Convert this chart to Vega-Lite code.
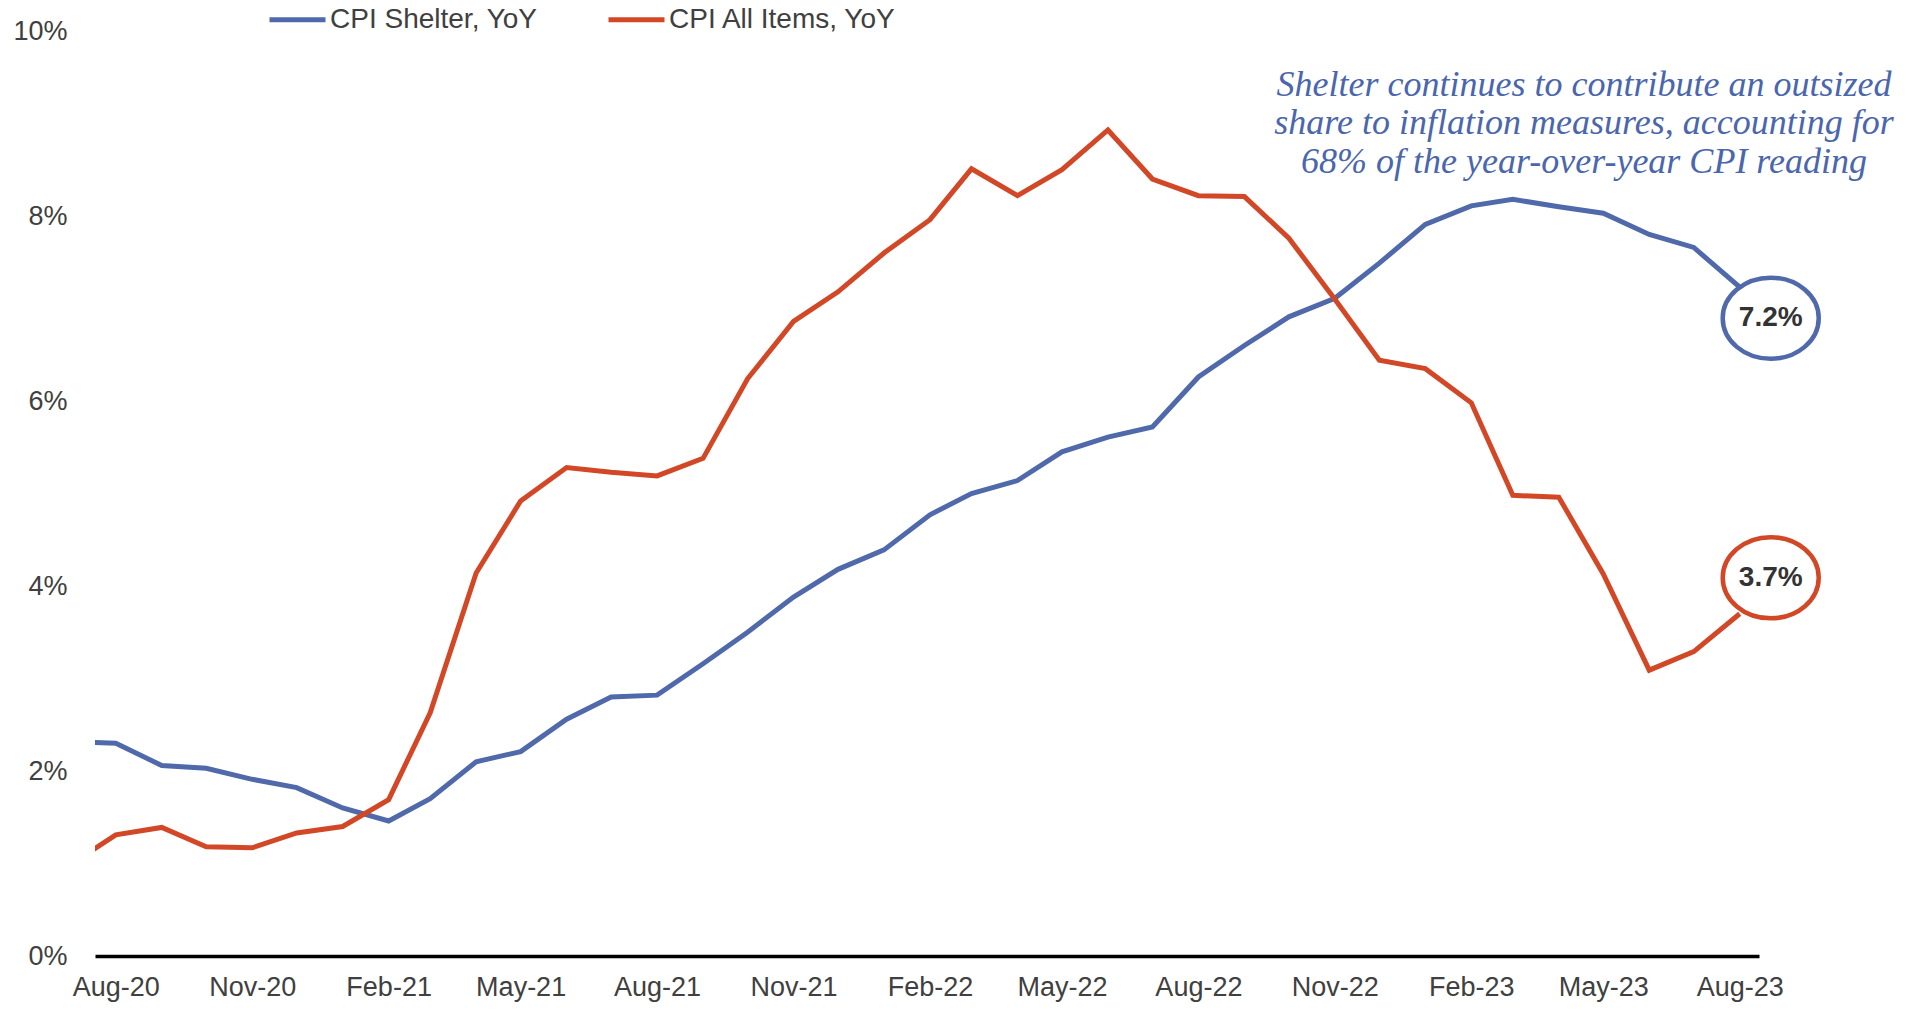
{
  "$schema": "https://vega.github.io/schema/vega-lite/v6.json",
  "autosize": {"type": "none"},
  "padding": {"left": 95, "top": 31, "right": 149, "bottom": 55},
  "width": 1664,
  "height": 925,
  "background": "white",
  "config": {"view": {"stroke": null}, "font": "Liberation Sans"},
  "datasets": {
    "cpi": [
      {"month": "2020-07-01", "series": "CPI Shelter, YoY", "value": 2.32},
      {"month": "2020-08-01", "series": "CPI Shelter, YoY", "value": 2.30},
      {"month": "2020-09-01", "series": "CPI Shelter, YoY", "value": 2.06},
      {"month": "2020-10-01", "series": "CPI Shelter, YoY", "value": 2.03},
      {"month": "2020-11-01", "series": "CPI Shelter, YoY", "value": 1.91},
      {"month": "2020-12-01", "series": "CPI Shelter, YoY", "value": 1.82},
      {"month": "2021-01-01", "series": "CPI Shelter, YoY", "value": 1.60},
      {"month": "2021-02-01", "series": "CPI Shelter, YoY", "value": 1.46},
      {"month": "2021-03-01", "series": "CPI Shelter, YoY", "value": 1.70},
      {"month": "2021-04-01", "series": "CPI Shelter, YoY", "value": 2.10},
      {"month": "2021-05-01", "series": "CPI Shelter, YoY", "value": 2.21},
      {"month": "2021-06-01", "series": "CPI Shelter, YoY", "value": 2.56},
      {"month": "2021-07-01", "series": "CPI Shelter, YoY", "value": 2.80},
      {"month": "2021-08-01", "series": "CPI Shelter, YoY", "value": 2.82},
      {"month": "2021-09-01", "series": "CPI Shelter, YoY", "value": 3.16},
      {"month": "2021-10-01", "series": "CPI Shelter, YoY", "value": 3.50},
      {"month": "2021-11-01", "series": "CPI Shelter, YoY", "value": 3.88},
      {"month": "2021-12-01", "series": "CPI Shelter, YoY", "value": 4.18},
      {"month": "2022-01-01", "series": "CPI Shelter, YoY", "value": 4.39},
      {"month": "2022-02-01", "series": "CPI Shelter, YoY", "value": 4.77},
      {"month": "2022-03-01", "series": "CPI Shelter, YoY", "value": 5.00},
      {"month": "2022-04-01", "series": "CPI Shelter, YoY", "value": 5.14},
      {"month": "2022-05-01", "series": "CPI Shelter, YoY", "value": 5.45},
      {"month": "2022-06-01", "series": "CPI Shelter, YoY", "value": 5.61},
      {"month": "2022-07-01", "series": "CPI Shelter, YoY", "value": 5.72},
      {"month": "2022-08-01", "series": "CPI Shelter, YoY", "value": 6.26},
      {"month": "2022-09-01", "series": "CPI Shelter, YoY", "value": 6.60},
      {"month": "2022-10-01", "series": "CPI Shelter, YoY", "value": 6.91},
      {"month": "2022-11-01", "series": "CPI Shelter, YoY", "value": 7.11},
      {"month": "2022-12-01", "series": "CPI Shelter, YoY", "value": 7.49},
      {"month": "2023-01-01", "series": "CPI Shelter, YoY", "value": 7.91},
      {"month": "2023-02-01", "series": "CPI Shelter, YoY", "value": 8.11},
      {"month": "2023-03-01", "series": "CPI Shelter, YoY", "value": 8.18},
      {"month": "2023-04-01", "series": "CPI Shelter, YoY", "value": 8.10},
      {"month": "2023-05-01", "series": "CPI Shelter, YoY", "value": 8.03},
      {"month": "2023-06-01", "series": "CPI Shelter, YoY", "value": 7.80},
      {"month": "2023-07-01", "series": "CPI Shelter, YoY", "value": 7.66},
      {"month": "2023-08-01", "series": "CPI Shelter, YoY", "value": 7.23},
      {"month": "2020-07-01", "series": "CPI All Items, YoY", "value": 0.98},
      {"month": "2020-08-01", "series": "CPI All Items, YoY", "value": 1.31},
      {"month": "2020-09-01", "series": "CPI All Items, YoY", "value": 1.39},
      {"month": "2020-10-01", "series": "CPI All Items, YoY", "value": 1.18},
      {"month": "2020-11-01", "series": "CPI All Items, YoY", "value": 1.17},
      {"month": "2020-12-01", "series": "CPI All Items, YoY", "value": 1.33},
      {"month": "2021-01-01", "series": "CPI All Items, YoY", "value": 1.40},
      {"month": "2021-02-01", "series": "CPI All Items, YoY", "value": 1.69},
      {"month": "2021-03-01", "series": "CPI All Items, YoY", "value": 2.63},
      {"month": "2021-04-01", "series": "CPI All Items, YoY", "value": 4.14},
      {"month": "2021-05-01", "series": "CPI All Items, YoY", "value": 4.92},
      {"month": "2021-06-01", "series": "CPI All Items, YoY", "value": 5.28},
      {"month": "2021-07-01", "series": "CPI All Items, YoY", "value": 5.23},
      {"month": "2021-08-01", "series": "CPI All Items, YoY", "value": 5.19},
      {"month": "2021-09-01", "series": "CPI All Items, YoY", "value": 5.38},
      {"month": "2021-10-01", "series": "CPI All Items, YoY", "value": 6.24},
      {"month": "2021-11-01", "series": "CPI All Items, YoY", "value": 6.86},
      {"month": "2021-12-01", "series": "CPI All Items, YoY", "value": 7.18},
      {"month": "2022-01-01", "series": "CPI All Items, YoY", "value": 7.60},
      {"month": "2022-02-01", "series": "CPI All Items, YoY", "value": 7.96},
      {"month": "2022-03-01", "series": "CPI All Items, YoY", "value": 8.51},
      {"month": "2022-04-01", "series": "CPI All Items, YoY", "value": 8.22},
      {"month": "2022-05-01", "series": "CPI All Items, YoY", "value": 8.50},
      {"month": "2022-06-01", "series": "CPI All Items, YoY", "value": 8.93},
      {"month": "2022-07-01", "series": "CPI All Items, YoY", "value": 8.40},
      {"month": "2022-08-01", "series": "CPI All Items, YoY", "value": 8.22},
      {"month": "2022-09-01", "series": "CPI All Items, YoY", "value": 8.21},
      {"month": "2022-10-01", "series": "CPI All Items, YoY", "value": 7.76},
      {"month": "2022-11-01", "series": "CPI All Items, YoY", "value": 7.10},
      {"month": "2022-12-01", "series": "CPI All Items, YoY", "value": 6.44},
      {"month": "2023-01-01", "series": "CPI All Items, YoY", "value": 6.35},
      {"month": "2023-02-01", "series": "CPI All Items, YoY", "value": 5.98},
      {"month": "2023-03-01", "series": "CPI All Items, YoY", "value": 4.98},
      {"month": "2023-04-01", "series": "CPI All Items, YoY", "value": 4.96},
      {"month": "2023-05-01", "series": "CPI All Items, YoY", "value": 4.13},
      {"month": "2023-06-01", "series": "CPI All Items, YoY", "value": 3.09},
      {"month": "2023-07-01", "series": "CPI All Items, YoY", "value": 3.29},
      {"month": "2023-08-01", "series": "CPI All Items, YoY", "value": 3.70}
    ],
    "ends": [
      {"month": "2023-08-01", "series": "CPI Shelter, YoY", "value": 7.23, "label": "7.2%"},
      {"month": "2023-08-01", "series": "CPI All Items, YoY", "value": 3.70, "label": "3.7%"}
    ],
    "note": [
      {"text": ["Shelter continues to contribute an outsized", "share to inflation measures, accounting for", "68% of the year-over-year CPI reading"]}
    ]
  },
  "layer": [
    {
      "data": {"name": "cpi"},
      "mark": {"type": "line", "strokeWidth": 5, "clip": true},
      "encoding": {
        "x": {
          "field": "month", "type": "temporal",
          "scale": {"type": "utc", "domain": [{"year": 2020, "month": 7, "date": 18, "utc": true}, {"year": 2023, "month": 8, "date": 14, "utc": true}]},
          "axis": {
            "title": null, "format": "%b-%y", "grid": false, "ticks": false,
            "domainColor": "#000000", "domainWidth": 3.5,
            "labelFontSize": 27, "labelColor": "#404040", "labelPadding": 18, "labelFont": "Liberation Sans",
            "values": [
              {"year": 2020, "month": 8, "date": 1, "utc": true},
              {"year": 2020, "month": 11, "date": 1, "utc": true},
              {"year": 2021, "month": 2, "date": 1, "utc": true},
              {"year": 2021, "month": 5, "date": 1, "utc": true},
              {"year": 2021, "month": 8, "date": 1, "utc": true},
              {"year": 2021, "month": 11, "date": 1, "utc": true},
              {"year": 2022, "month": 2, "date": 1, "utc": true},
              {"year": 2022, "month": 5, "date": 1, "utc": true},
              {"year": 2022, "month": 8, "date": 1, "utc": true},
              {"year": 2022, "month": 11, "date": 1, "utc": true},
              {"year": 2023, "month": 2, "date": 1, "utc": true},
              {"year": 2023, "month": 5, "date": 1, "utc": true},
              {"year": 2023, "month": 8, "date": 1, "utc": true}
            ]
          }
        },
        "y": {
          "field": "value", "type": "quantitative",
          "scale": {"domain": [0, 10], "nice": false},
          "axis": {
            "title": null, "values": [0, 2, 4, 6, 8, 10], "labelExpr": "datum.value + '%'",
            "grid": false, "ticks": false, "domain": false,
            "labelFontSize": 27, "labelColor": "#404040", "labelPadding": 28, "labelFont": "Liberation Sans"
          }
        },
        "color": {
          "field": "series", "type": "nominal",
          "scale": {"domain": ["CPI Shelter, YoY", "CPI All Items, YoY"], "range": ["#4F69AA", "#D24827"]},
          "legend": {
            "orient": "none", "legendX": 172, "legendY": -42, "direction": "horizontal", "title": null,
            "symbolType": "stroke", "symbolSize": 3136, "symbolStrokeWidth": 5,
            "labelFontSize": 28, "labelColor": "#404040", "labelFont": "Liberation Sans", "labelLimit": 0,
            "columnPadding": 60, "labelOffset": 2, "padding": 0
          }
        }
      }
    },
    {
      "data": {"name": "ends"},
      "transform": [{"filter": "datum.series === 'CPI Shelter, YoY'"}],
      "mark": {"type": "point", "shape": "M-1,0A1,0.845,0,1,0,1,0A1,0.845,0,1,0,-1,0Z", "size": 9216, "filled": false, "fill": "white", "fillOpacity": 1, "stroke": "#4F69AA", "strokeWidth": 4.5, "opacity": 1, "xOffset": 31, "yOffset": 31},
      "encoding": {"x": {"field": "month", "type": "temporal"}, "y": {"field": "value", "type": "quantitative"}}
    },
    {
      "data": {"name": "ends"},
      "transform": [{"filter": "datum.series === 'CPI All Items, YoY'"}],
      "mark": {"type": "point", "shape": "M-1,0A1,0.845,0,1,0,1,0A1,0.845,0,1,0,-1,0Z", "size": 9216, "filled": false, "fill": "white", "fillOpacity": 1, "stroke": "#D24827", "strokeWidth": 4.5, "opacity": 1, "xOffset": 31, "yOffset": -36},
      "encoding": {"x": {"field": "month", "type": "temporal"}, "y": {"field": "value", "type": "quantitative"}}
    },
    {
      "data": {"name": "ends"},
      "transform": [{"filter": "datum.series === 'CPI Shelter, YoY'"}],
      "mark": {"type": "text", "fontWeight": "bold", "fontSize": 28, "font": "Liberation Sans", "color": "#333333", "align": "center", "baseline": "middle", "xOffset": 31, "yOffset": 31},
      "encoding": {"x": {"field": "month", "type": "temporal"}, "y": {"field": "value", "type": "quantitative"}, "text": {"field": "label"}}
    },
    {
      "data": {"name": "ends"},
      "transform": [{"filter": "datum.series === 'CPI All Items, YoY'"}],
      "mark": {"type": "text", "fontWeight": "bold", "fontSize": 28, "font": "Liberation Sans", "color": "#333333", "align": "center", "baseline": "middle", "xOffset": 31, "yOffset": -36},
      "encoding": {"x": {"field": "month", "type": "temporal"}, "y": {"field": "value", "type": "quantitative"}, "text": {"field": "label"}}
    },
    {
      "data": {"name": "note"},
      "mark": {"type": "text", "font": "Liberation Serif", "fontStyle": "italic", "fontSize": 36, "lineHeight": 38.5, "color": "#4A66AC", "align": "center", "baseline": "middle"},
      "encoding": {
        "x": {"datum": {"year": 2023, "month": 4, "date": 18, "utc": true}, "type": "temporal"},
        "y": {"datum": 9.42, "type": "quantitative"},
        "text": {"field": "text"}
      }
    }
  ]
}
